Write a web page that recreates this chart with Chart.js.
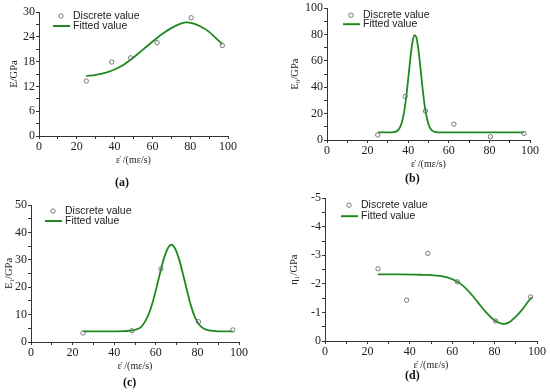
<!DOCTYPE html>
<html>
<head>
<meta charset="utf-8">
<script src="https://cdn.jsdelivr.net/npm/chart.js@4.4.1/dist/chart.umd.min.js"></script>
<style>
  body { margin: 0; background: #fff; }
  #wrap { position: relative; width: 550px; height: 392px; overflow: hidden; }
  .panel { position: absolute; }
  .tag { position: absolute; font: bold 12px "Liberation Serif", serif; color: #111; }
</style>
</head>
<body>
<div id="wrap">
  <div class="panel" style="left:0;top:0;"><canvas id="chartA" width="275" height="196"></canvas></div>
  <div class="panel" style="left:275px;top:0;"><canvas id="chartB" width="275" height="196"></canvas></div>
  <div class="panel" style="left:0;top:196px;"><canvas id="chartC" width="275" height="196"></canvas></div>
  <div class="panel" style="left:275px;top:190px;"><canvas id="chartD" width="275" height="202"></canvas></div>
  <div class="tag" style="left:115px;top:175px;">(a)</div>
  <div class="tag" style="left:405px;top:171px;">(b)</div>
  <div class="tag" style="left:123px;top:375px;">(c)</div>
  <div class="tag" style="left:405px;top:368px;">(d)</div>
</div>
<script>
// strain rates (mε/s) of the test points
const ratesAll = [25, 38.5, 48.5, 62.5, 80.5, 97];
const ratesC = [25, 48.5, 62.5, 80.5, 97];

// (a) E
const eDiscrete = [13.3, 17.9, 18.9, 22.6, 28.6, 21.9];
const eFitX = [25, 30, 35, 40, 45, 50, 55, 60, 65, 70, 75, 78, 81, 85, 90, 94, 97];
const eFitY = [14.5, 14.8, 15.3, 16.1, 17.3, 19.0, 20.9, 22.8, 24.6, 26.1, 27.2, 27.5, 27.3, 26.6, 25.2, 23.5, 22.2];

// (b) E0
const e0Discrete = [3.8, 33, 22, 12, 2.5, 5];
const e0FitX = [25, 30, 33, 35, 36, 37, 38, 39, 40, 41, 42, 43, 44, 45, 46, 47, 48, 49, 50, 51, 52, 53, 55, 60, 70, 80, 90, 97];
const e0FitY = [5.8, 5.8, 6.0, 7.4, 9.7, 14, 21.4, 32.3, 46.3, 61.1, 73.4, 79.6, 78, 68.9, 55.3, 40.4, 27.5, 18, 12, 8.6, 6.9, 6.2, 5.8, 5.8, 5.8, 5.8, 5.8, 5.8];

// (c) E1
const e1Discrete = [3.3, 4.1, 26.7, 7.4, 4.4];
const e1FitX = [25, 35, 45, 50, 53, 55, 57, 58.5, 60, 62, 64, 66, 67.5, 69, 71, 73, 75, 77, 79, 81, 83, 85, 90, 97];
const e1FitY = [3.9, 3.9, 4.0, 4.4, 5.5, 7.7, 11, 14.5, 18.8, 25, 30.7, 34.5, 35.5, 34.5, 30.7, 25, 18.8, 13, 8.7, 6.2, 4.9, 4.3, 3.9, 3.9];

// (d) eta1
const etaDiscrete = [-2.53, -1.43, -3.07, -2.07, -0.70, -1.54];
const etaFitX = [25, 35, 45, 50, 55, 58, 61, 64, 67, 70, 73, 76, 79, 82, 84.5, 87, 90, 93, 96, 97.5];
const etaFitY = [-2.33, -2.33, -2.32, -2.31, -2.27, -2.22, -2.13, -2.0, -1.8, -1.55, -1.27, -1.0, -0.78, -0.64, -0.6, -0.66, -0.85, -1.1, -1.4, -1.53];

const lineGreen = '#1f8a1f';
const axisColor = '#333';
const serif = '"Liberation Serif", "Times New Roman", serif';

function pairs(xs, ys) {
  return xs.map((x, i) => ({ x: x, y: ys[i] }));
}

// legend drawn near the top-left of the plot area
const cornerLegend = {
  id: 'cornerLegend',
  afterDraw(chart, args, opts) {
    const ctx = chart.ctx;
    const a = chart.chartArea;
    const x0 = a.left + opts.dx;
    ctx.save();
    ctx.font = '10.5px "Liberation Sans", Arial, sans-serif';
    ctx.fillStyle = '#222';
    ctx.textBaseline = 'middle';
    // discrete value
    ctx.beginPath();
    ctx.arc(x0 + 8, a.top + opts.dy1, 2.2, 0, Math.PI * 2);
    ctx.strokeStyle = '#777';
    ctx.lineWidth = 1;
    ctx.stroke();
    ctx.fillText('Discrete value', x0 + 20, a.top + opts.dy1);
    // fitted value
    ctx.beginPath();
    ctx.moveTo(x0, a.top + opts.dy2);
    ctx.lineTo(x0 + 17, a.top + opts.dy2);
    ctx.strokeStyle = lineGreen;
    ctx.lineWidth = 2;
    ctx.stroke();
    ctx.fillText('Fitted value', x0 + 20, a.top + opts.dy2);
    ctx.restore();
  }
};

function makeChart(id, cfg) {
  const major = cfg.yMajor;
  new Chart(document.getElementById(id), {
    type: 'scatter',
    data: {
      datasets: [{
        label: 'Discrete value',
        data: pairs(cfg.discreteX, cfg.discreteY),
        pointStyle: 'circle',
        pointRadius: 2.2,
        pointBorderWidth: 1,
        pointBorderColor: '#777',
        pointBackgroundColor: 'rgba(0,0,0,0)',
        showLine: false
      }, {
        label: 'Fitted value',
        data: pairs(cfg.fitX, cfg.fitY),
        showLine: true,
        borderColor: lineGreen,
        borderWidth: 1.8,
        pointRadius: 0,
        cubicInterpolationMode: 'monotone'
      }]
    },
    options: {
      responsive: false,
      animation: false,
      devicePixelRatio: 1,
      layout: { padding: cfg.padding },
      plugins: {
        legend: { display: false },
        tooltip: { enabled: false },
        cornerLegend: cfg.legend
      },
      scales: {
        x: {
          type: 'linear',
          min: 0, max: 100,
          border: { color: axisColor, width: 1 },
          grid: { drawOnChartArea: false, tickLength: 3, color: axisColor },
          ticks: {
            stepSize: 10, autoSkip: false, padding: 1, maxRotation: 0,
            color: '#222', font: { family: serif, size: 12 },
            callback: v => (Math.round(v) % 20 === 0 ? v : '')
          },
          title: {
            display: true, text: 'ε̇ /(mε/s)', color: '#222',
            font: { family: serif, size: 10 }, padding: { top: 0, bottom: 0 }
          },
          afterFit: s => { s.height = 30; }
        },
        y: {
          type: 'linear',
          min: cfg.yMin, max: cfg.yMax,
          reverse: !!cfg.reverse,
          border: { color: axisColor, width: 1 },
          grid: { drawOnChartArea: false, tickLength: 3, color: axisColor },
          ticks: {
            stepSize: major / 2, autoSkip: false, padding: 1,
            color: '#222', font: { family: serif, size: 12 },
            callback: v => {
              const k = v / major;
              if (Math.abs(k - Math.round(k)) > 1e-6) return '';
              return v === 0 ? '0' : String(v);
            }
          },
          title: {
            display: true, text: cfg.yTitle, color: '#222',
            font: { family: serif, size: 10.5 }, padding: cfg.yTitlePad
          },
          afterFit: s => { s.width = cfg.yWidth; }
        }
      }
    },
    plugins: [cornerLegend]
  });
}

makeChart('chartA', {
  discreteX: ratesAll, discreteY: eDiscrete, fitX: eFitX, fitY: eFitY,
  yMin: 0, yMax: 30, yMajor: 6, yTitle: 'E/GPa', yWidth: 39, yTitlePad: { top: 8, bottom: 0 },
  padding: { left: 0, right: 47, top: 12, bottom: 30 },
  legend: { dx: 14, dy1: 4, dy2: 14 }
});

makeChart('chartB', {
  discreteX: ratesAll, discreteY: e0Discrete, fitX: e0FitX, fitY: e0FitY,
  yMin: 0, yMax: 100, yMajor: 20, yTitle: 'E₀/GPa', yWidth: 52, yTitlePad: { top: 14, bottom: 0 },
  padding: { left: 0, right: 20, top: 7, bottom: 26 },
  legend: { dx: 16, dy1: 7, dy2: 16 }
});

makeChart('chartC', {
  discreteX: ratesC, discreteY: e1Discrete, fitX: e1FitX, fitY: e1FitY,
  yMin: 0, yMax: 50, yMajor: 10, yTitle: 'E₁/GPa', yWidth: 31, yTitlePad: { top: 3, bottom: 0 },
  padding: { left: 0, right: 36, top: 9, bottom: 20 },
  legend: { dx: 14, dy1: 6, dy2: 16 }
});

makeChart('chartD', {
  discreteX: ratesAll, discreteY: etaDiscrete, fitX: etaFitX, fitY: etaFitY,
  yMin: -5, yMax: 0, yMajor: 1, reverse: true, yTitle: 'η₁/GPa', yWidth: 50, yTitlePad: { top: 13, bottom: 0 },
  padding: { left: 0, right: 13, top: 8, bottom: 21 },
  legend: { dx: 16, dy1: 7, dy2: 18 }
});
</script>
</body>
</html>
